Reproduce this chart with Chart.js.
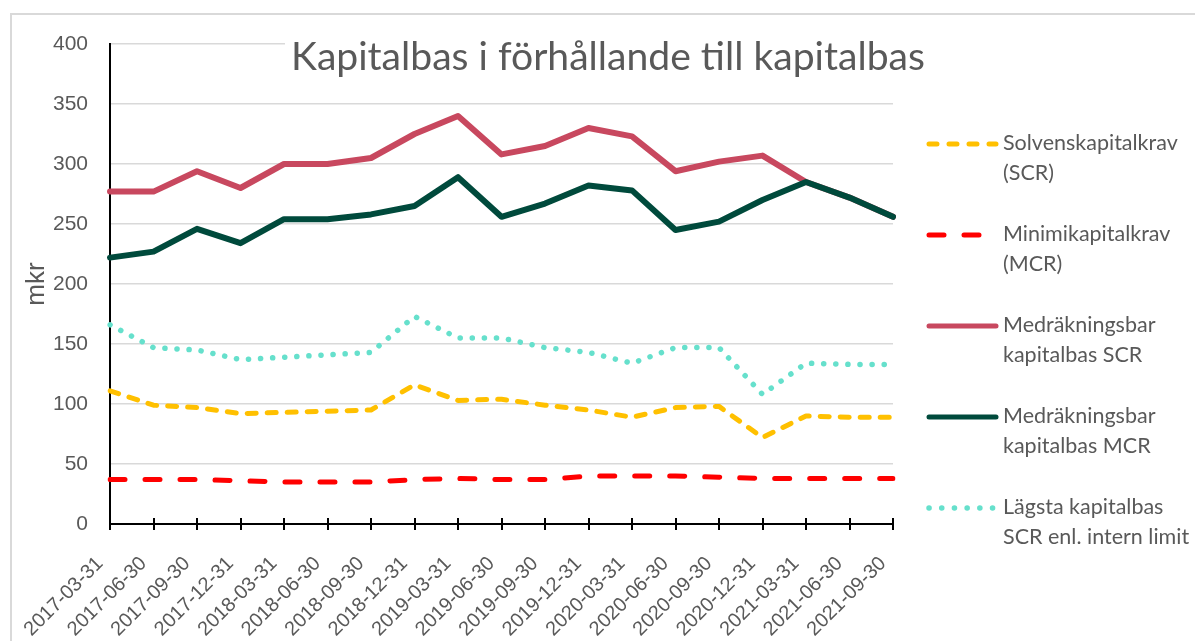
<!DOCTYPE html>
<html>
<head>
<meta charset="utf-8">
<script src="https://cdn.jsdelivr.net/npm/chart.js@4.4.1/dist/chart.umd.min.js"></script>
<style>
  html, body { margin: 0; padding: 0; background: #fff; }
</style>
</head>
<body>
<canvas id="kapital" width="1195" height="641"></canvas>
<script>
const labels = ["2017-03-31", "2017-06-30", "2017-09-30", "2017-12-31", "2018-03-31", "2018-06-30",
  "2018-09-30", "2018-12-31", "2019-03-31", "2019-06-30", "2019-09-30", "2019-12-31", "2020-03-31",
  "2020-06-30", "2020-09-30", "2020-12-31", "2021-03-31", "2021-06-30", "2021-09-30"];

const scr = [111, 99, 97, 92, 93, 94, 95, 116, 103, 104, 99, 95, 89, 97, 98, 72, 90, 89, 89];
const mcr = [37, 37, 37, 36, 35, 35, 35, 37, 38, 37, 37, 40, 40, 40, 39, 38, 38, 38, 38];
const kapitalbasScr = [277, 277, 294, 280, 300, 300, 305, 325, 340, 308, 315, 330, 323, 294, 302, 307, 285, 272, 256];
const kapitalbasMcr = [222, 227, 246, 234, 254, 254, 258, 265, 289, 256, 267, 282, 278, 245, 252, 270, 285, 272, 256];
const lagstaKapitalbas = [166, 147, 145, 137, 139, 141, 143, 173, 155, 155, 147, 143, 134, 147, 147, 108, 134, 133, 133];

const seriesNames = [
  ["Solvenskapitalkrav", "(SCR)"],
  ["Minimikapitalkrav", "(MCR)"],
  ["Medräkningsbar", "kapitalbas SCR"],
  ["Medräkningsbar", "kapitalbas MCR"],
  ["Lägsta kapitalbas", "SCR enl. intern limit"]
];
const yTicks = [0, 50, 100, 150, 200, 250, 300, 350, 400];

const textGray = "#595959";
const gridGray = "#d9d9d9";

const ctx = document.getElementById("kapital").getContext("2d");

// legend, title, border and crossing tick marks drawn by hand
const decorPlugin = {
    id: "decor",
    afterDraw: function (chart) {
        const c = chart.ctx;
        const xs = chart.scales.x;
        c.save();

        // outer frame (left + top only visible)
        c.strokeStyle = gridGray;
        c.lineWidth = 2;
        c.beginPath();
        c.moveTo(11, 641);
        c.lineTo(11, 14);
        c.lineTo(1195, 14);
        c.stroke();

        // tick marks across the x axis
        c.strokeStyle = "#000";
        c.lineWidth = 2;
        for (let i = 0; i < labels.length; i++) {
            const px = Math.round(xs.getPixelForTick(i));
            c.beginPath();
            c.moveTo(px, chart.chartArea.bottom - 6);
            c.lineTo(px, chart.chartArea.bottom + 6);
            c.stroke();
        }

        // title with white box behind it
        const title = "Kapitalbas i förhållande till kapitalbas";
        c.font = "100px Lato";
        const size = 100 * 634 / c.measureText(title).width;
        c.fillStyle = "#fff";
        c.fillRect(285, 30, 650, 46);
        c.font = size + "px Lato";
        c.fillStyle = textGray;
        c.textAlign = "center";
        c.textBaseline = "alphabetic";
        c.fillText(title, 608, 70);

        // legend
        c.textAlign = "left";
        c.font = "21.5px Lato";
        chart.data.datasets.forEach((ds, i) => {
            const y = 144 + i * 91;
            c.strokeStyle = ds.borderColor;
            c.lineWidth = ds.legendWidth;
            c.lineCap = "round";
            c.setLineDash(ds.legendDash);
            c.beginPath();
            c.moveTo(929, y);
            c.lineTo(996, y);
            c.stroke();
            c.setLineDash([]);
            c.fillStyle = textGray;
            seriesNames[i].forEach((line, j) => {
                c.fillText(line, 1003, y + 6 + j * 30);
            });
        });
        c.restore();
    }
};

const chart = new Chart(ctx, {
    type: "line",
    data: {
        labels: labels,
        datasets: [{
            label: seriesNames[0].join(" "),
            data: scr,
            borderColor: "#ffc000",
            borderWidth: 5,
            borderDash: [9, 11],
            legendDash: [8, 12],
            legendWidth: 5,
            order: 1
        }, {
            label: seriesNames[1].join(" "),
            data: mcr,
            borderColor: "#ff0000",
            borderWidth: 5,
            borderDash: [15, 20],
            legendDash: [15, 20],
            legendWidth: 5,
            order: 1
        }, {
            label: seriesNames[2].join(" "),
            data: kapitalbasScr,
            borderColor: "#c8485f",
            borderWidth: 6,
            borderDash: [],
            legendDash: [],
            legendWidth: 5,
            order: 2
        }, {
            label: seriesNames[3].join(" "),
            data: kapitalbasMcr,
            borderColor: "#004a3c",
            borderWidth: 6,
            borderDash: [],
            legendDash: [],
            legendWidth: 5,
            order: 0
        }, {
            label: seriesNames[4].join(" "),
            data: lagstaKapitalbas,
            borderColor: "#66e0cc",
            borderWidth: 5.5,
            borderDash: [0.1, 12],
            legendDash: [0.1, 12.6],
            legendWidth: 5.5,
            order: 1
        }]
    },
    options: {
        responsive: false,
        animation: false,
        layout: {
            padding: { left: 12, top: 44, right: 302, bottom: 0 }
        },
        elements: {
            point: { radius: 0, hoverRadius: 0 },
            line: { tension: 0, borderCapStyle: "round", borderJoinStyle: "round" }
        },
        plugins: {
            legend: { display: false },
            tooltip: { enabled: false },
            title: { display: false }
        },
        scales: {
            x: {
                grid: { display: true, drawOnChartArea: false, drawTicks: false },
                border: { color: "#000", width: 2 },
                ticks: {
                    autoSkip: false,
                    maxRotation: 45,
                    minRotation: 45,
                    padding: 28,
                    labelOffset: -10,
                    color: textGray,
                    font: { family: "'Liberation Sans', Arial", size: 20 }
                },
                afterFit: function (scale) { scale.height = 117; }
            },
            y: {
                min: 0,
                max: 400,
                afterBuildTicks: function (scale) {
                    scale.ticks = yTicks.map(v => ({ value: v }));
                },
                grid: { color: gridGray, lineWidth: 1.5, drawTicks: false },
                border: { color: "#000", width: 2 },
                ticks: {
                    padding: 22,
                    color: textGray,
                    font: { family: "'Liberation Sans', Arial", size: 21 }
                },
                title: {
                    display: true,
                    text: "mkr",
                    color: textGray,
                    padding: { top: 9, bottom: 0 },
                    font: { family: "'Liberation Sans', Arial", size: 26 }
                },
                afterFit: function (scale) { scale.width = 98; }
            }
        }
    },
    plugins: [decorPlugin]
});
</script>
</body>
</html>
